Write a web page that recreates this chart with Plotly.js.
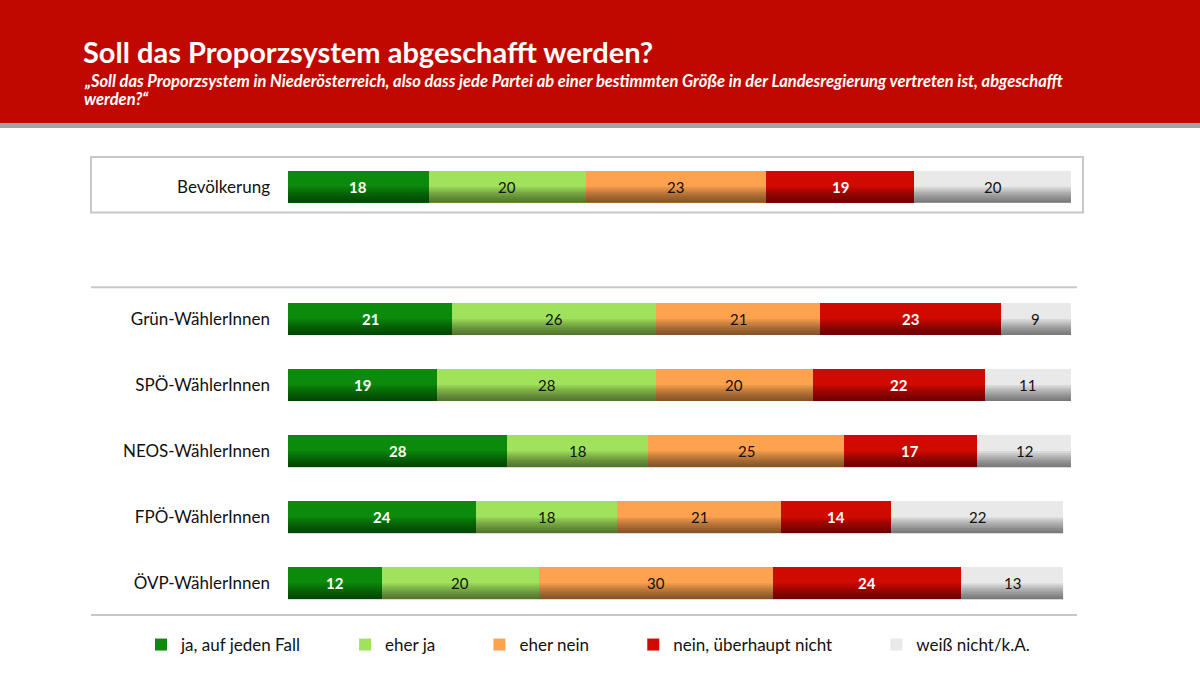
<!DOCTYPE html>
<html><head><meta charset="utf-8">
<script src="https://cdn.plot.ly/plotly-3.0.1.min.js"></script>
<style>html,body{margin:0;padding:0;background:#fff}#chart{width:1200px;height:693px}</style>
</head><body><div id="chart"></div>
<script>
// ---- data ----
const groups = ["ÖVP-WählerInnen","FPÖ-WählerInnen","NEOS-WählerInnen","SPÖ-WählerInnen","Grün-WählerInnen","Bevölkerung"];
const rowPos = [0,1,2,3,4,6];
const seriesNames = ["ja, auf jeden Fall","eher ja","eher nein","nein, überhaupt nicht","weiß nicht/k.A."];
const jaAufJedenFall = [12,24,28,19,21,18];
const eherJa = [20,18,18,28,26,20];
const eherNein = [30,21,25,20,21,23];
const neinUeberhauptNicht = [24,14,17,22,23,19];
const weissNicht = [13,22,12,11,9,20];
const title = "Soll das Proporzsystem abgeschafft werden?";
const subtitleLine1 = "„Soll das Proporzsystem in Niederösterreich, also dass jede Partei ab einer bestimmten Größe in der Landesregierung vertreten ist, abgeschafft";
const subtitleLine2 = "werden?“";

// ---- style ----
const series = [jaAufJedenFall, eherJa, eherNein, neinUeberhauptNicht, weissNicht];
const colors = ["#0b8a0b","#a0e25c","#fda24f","#d10a00","#e9e9e9"];
const labelColors = ["#ffffff","#111111","#111111","#ffffff","#111111"];
const labelWeights = [700,400,400,700,400];
const FONT = "Lato, 'Liberation Sans', Arial, sans-serif";
const W = 1200, H = 693;
const M = {l:91, r:117, t:147, b:70};
const PW = W - M.l - M.r, PH = H - M.t - M.b;
const px = x => (x - M.l) / PW;
const py = y => (H - M.b - y) / PH;
const BW = 0.485;
const legendPad = "\u00a0".repeat(9);

const traces = series.map((vals, i) => ({
  type: "bar", orientation: "h",
  name: seriesNames[i] + (i < series.length - 1 ? legendPad : ""),
  x: vals, y: rowPos, width: BW,
  marker: {color: colors[i], line: {width: 0}},
  hoverinfo: "x"
}));

const annotations = [];
const shapes = [];
// header
shapes.push({type:"rect", xref:"paper", yref:"paper", x0:px(-5), x1:px(W+5), y0:py(123), y1:py(-5), fillcolor:"#c00800", line:{width:0}, layer:"below"});
shapes.push({type:"rect", xref:"paper", yref:"paper", x0:px(-5), x1:px(W+5), y0:py(128), y1:py(123), fillcolor:"#a3a3a3", line:{width:0}, layer:"below"});
// box around Bevölkerung and separators
shapes.push({type:"rect", xref:"paper", yref:"y", x0:px(91), x1:px(1083), y0:5.61, y1:6.45, line:{color:"#c8c8c8", width:2}, fillcolor:"rgba(0,0,0,0)", layer:"below"});
shapes.push({type:"line", xref:"paper", yref:"y", x0:px(91), x1:px(1077), y0:4.48, y1:4.48, line:{color:"#c8c8c8", width:2}});
shapes.push({type:"line", xref:"paper", yref:"y", x0:px(91), x1:px(1077), y0:-0.48, y1:-0.48, line:{color:"#c8c8c8", width:2}});

// value labels + bottom shading of bars
rowPos.forEach((r, j) => {
  let cum = 0;
  series.forEach((vals, i) => {
    const v = vals[j];
    annotations.push({x: cum + v/2, y: r, xref:"x", yref:"y", text: String(v), showarrow:false,
      font:{family:FONT, size:15, color:labelColors[i], weight:labelWeights[i]}});
    cum += v;
  });
  const steps = 9;
  for (let k = 1; k <= steps; k++) {
    shapes.push({type:"rect", xref:"x", yref:"y", x0:0, x1:cum, y0:r - BW/2, y1:r - BW/2 + BW*0.5*k/steps,
      fillcolor:"#000", opacity:0.065, line:{width:0}, layer:"above"});
  }
});

annotations.push({xref:"paper", yref:"paper", x:px(81), y:py(51), xanchor:"left", yanchor:"middle", showarrow:false,
  text:title, font:{family:FONT, size:29, color:"#fff", weight:700}});
annotations.push({xref:"paper", yref:"paper", x:px(82), y:py(81), xanchor:"left", yanchor:"middle", showarrow:false, align:"left",
  text:"<i>"+subtitleLine1+"</i>", font:{family:FONT, size:16.5, color:"#fff", weight:700}});
annotations.push({xref:"paper", yref:"paper", x:px(82), y:py(99), xanchor:"left", yanchor:"middle", showarrow:false, align:"left",
  text:"<i>"+subtitleLine2+"</i>", font:{family:FONT, size:16.5, color:"#fff", weight:700}});

const layout = {
  width: W, height: H,
  margin: M,
  paper_bgcolor:"#fff", plot_bgcolor:"#fff",
  barmode:"stack",
  showlegend:true,
  legend:{orientation:"h", x:px(588), xanchor:"center", y:py(645), yanchor:"middle",
    font:{family:FONT, size:17, color:"#111"}, traceorder:"normal", itemclick:false, itemdoubleclick:false},
  xaxis:{range:[0,100], domain:[px(288), px(1071)], visible:false, fixedrange:true},
  yaxis:{range:[-0.6,6.6], tickvals:rowPos, ticktext:groups, showgrid:false, zeroline:false, showline:false,
    ticks:"", ticklabelstandoff:17, tickfont:{family:FONT, size:17, color:"#111"}, fixedrange:true},
  shapes: shapes,
  annotations: annotations,
  font:{family:FONT}
};
Plotly.newPlot("chart", traces, layout, {displayModeBar:false, staticPlot:true});
</script>
</body></html>
